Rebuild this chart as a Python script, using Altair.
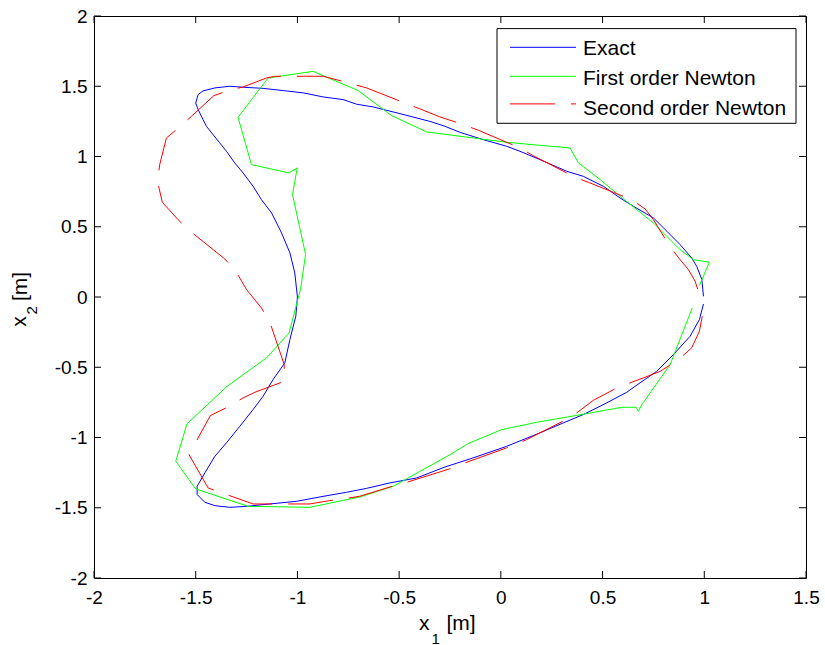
import altair as alt
import pandas as pd

# ---------------- data ----------------
exact_x1 = [0.996, 0.976, 0.930, 0.848, 0.766, 0.684, 0.619, 0.520, 0.405, 0.307, 0.192, 0.028, -0.136, -0.275,
            -0.414, -0.545, -0.660, -0.759, -0.874, -1.004, -1.136, -1.250, -1.333, -1.406, -1.455, -1.493, -1.493,
            -1.455, -1.406, -1.349, -1.283, -1.218, -1.169, -1.120, -1.062, -1.037, -1.008, -1.000, -1.013, -1.037,
            -1.078, -1.127, -1.177, -1.218, -1.267, -1.308, -1.349, -1.382, -1.415, -1.447, -1.464, -1.488, -1.500,
            -1.488, -1.464, -1.406, -1.333, -1.267, -1.169, -1.070, -0.972, -0.874, -0.775, -0.709, -0.628, -0.496,
            -0.349, -0.275, -0.201, -0.087, 0.028, 0.094, 0.192, 0.324, 0.405, 0.504, 0.586, 0.651, 0.750, 0.816,
            0.881, 0.938, 0.963, 0.988, 0.996]
exact_x2 = [-0.050, -0.161, -0.280, -0.410, -0.529, -0.611, -0.678, -0.754, -0.837, -0.896, -0.967, -1.063, -1.145,
            -1.210, -1.288, -1.323, -1.362, -1.390, -1.419, -1.454, -1.473, -1.490, -1.497, -1.485, -1.461, -1.406,
            -1.347, -1.252, -1.134, -1.038, -0.920, -0.801, -0.707, -0.588, -0.469, -0.303, -0.137, 0.000, 0.171,
            0.314, 0.456, 0.598, 0.693, 0.788, 0.883, 0.954, 1.037, 1.097, 1.156, 1.215, 1.263, 1.334, 1.381, 1.441,
            1.467, 1.488, 1.500, 1.493, 1.485, 1.469, 1.453, 1.424, 1.405, 1.372, 1.353, 1.305, 1.250, 1.215, 1.172,
            1.120, 1.073, 1.037, 0.978, 0.895, 0.859, 0.788, 0.705, 0.646, 0.563, 0.468, 0.373, 0.278, 0.218, 0.124,
            0.005]

first_x1 = [0.941, 0.832, 0.693, 0.676, 0.665, 0.594, 0.422, 0.176, 0.004, -0.160, -0.250, -0.529, -0.693, -0.939,
            -1.242, -1.500, -1.598, -1.543, -1.346, -1.152, -1.041, -0.985, -0.960, -1.024, -1.001, -1.041, -1.226,
            -1.292, -1.144, -0.923, -0.701, -0.537, -0.365, 0.028, 0.340, 0.381, 0.488, 0.586, 0.750, 0.881, 0.946,
            1.025, 0.976]
first_x2 = [-0.078, -0.481, -0.766, -0.813, -0.785, -0.785, -0.830, -0.892, -0.944, -1.043, -1.122, -1.347, -1.423,
            -1.497, -1.490, -1.366, -1.169, -0.903, -0.636, -0.433, -0.256, 0.053, 0.302, 0.729, 0.919, 0.883, 0.942,
            1.279, 1.559, 1.606, 1.469, 1.291, 1.175, 1.101, 1.061, 0.955, 0.836, 0.717, 0.527, 0.337, 0.266, 0.247,
            0.081]

second_x1 = [0.990, 0.976, 0.938, 0.901, 0.835, 0.783, 0.700, 0.635, 0.561, 0.455, 0.373, 0.304, 0.127, 0.028,
             -0.177, -0.254, -0.463, -0.545, -0.693, -0.759, -0.841, -0.939, -1.054, -1.218, -1.349, -1.439, -1.533,
             -1.521, -1.484, -1.428, -1.336, -1.267, -1.209, -1.065, -1.065, -1.136, -1.177, -1.250, -1.303, -1.357,
             -1.533, -1.587, -1.664, -1.688, -1.677, -1.644, -1.578, -1.521, -1.411, -1.341, -1.267, -1.152, -1.111,
             -0.972, -0.874, -0.759, -0.660, -0.398, -0.300, -0.185, -0.111, 0.094, 0.159, 0.365, 0.438, 0.553, 0.643,
             0.709, 0.750, 0.828, 0.878, 0.922, 0.955, 0.983]
second_x2 = [-0.137, -0.244, -0.362, -0.410, -0.481, -0.529, -0.576, -0.611, -0.654, -0.735, -0.825, -0.885, -1.015,
             -1.074, -1.181, -1.224, -1.319, -1.352, -1.418, -1.433, -1.449, -1.473, -1.473, -1.473, -1.406, -1.359,
             -1.122, -1.098, -0.991, -0.844, -0.778, -0.718, -0.678, -0.600, -0.481, -0.177, -0.078, 0.053, 0.183,
             0.271, 0.475, 0.551, 0.674, 0.823, 0.942, 1.132, 1.211, 1.286, 1.433, 1.469, 1.495, 1.559, 1.571, 1.571,
             1.571, 1.528, 1.488, 1.339, 1.282, 1.227, 1.187, 1.061, 1.006, 0.852, 0.812, 0.745, 0.693, 0.627, 0.551,
             0.366, 0.271, 0.195, 0.112, -0.014]

x_ticks = [-2, -1.5, -1, -0.5, 0, 0.5, 1, 1.5]
y_ticks = [-2, -1.5, -1, -0.5, 0, 0.5, 1, 1.5, 2]
legend_labels = ["Exact", "First order Newton", "Second order Newton"]
x_title = ["x", "1", "[m]"]
y_title = ["x", "2", "[m]"]

# ---------------- layout / style ----------------
W, H = 712, 562
FONT = "Liberation Sans"
FS = 19
LFS = 21
TFS = 21
TICK = 7
BLUE, GREEN, RED = "#0000ff", "#00ff00", "#ff0000"
DASH = [45, 16]

xscale = alt.Scale(domain=[-2, 1.5], nice=False, zero=False)
yscale = alt.Scale(domain=[-2, 2], nice=False, zero=False)
xaxis = alt.Axis(values=x_ticks, ticks=False, domain=False, grid=False, title=None,
                 labelExpr="datum.value + ''", labelFont=FONT, labelFontSize=FS,
                 labelColor="black", labelPadding=10, labelFlush=False)
yaxis = alt.Axis(values=y_ticks, ticks=False, domain=False, grid=False, title=None,
                 labelExpr="datum.value + ''", labelFont=FONT, labelFontSize=FS,
                 labelColor="black", labelPadding=7, labelFlush=False)


def series(xs, ys):
    return pd.DataFrame({"x1": xs, "x2": ys, "i": list(range(len(xs)))})


def line(df, color, dash=None):
    kw = dict(color=color, strokeWidth=1)
    if dash:
        kw["strokeDash"] = dash
    return alt.Chart(df).mark_line(**kw).encode(
        x=alt.X("x1:Q", scale=xscale, axis=xaxis),
        y=alt.Y("x2:Q", scale=yscale, axis=yaxis),
        order=alt.Order("i:Q"),
    )


layers = [
    line(series(exact_x1, exact_x2), BLUE),
    line(series(first_x1, first_x2), GREEN),
    line(series(second_x1, second_x2), RED, DASH),
]

# inward tick marks on all four sides
xt = pd.DataFrame({"x1": x_ticks})
yt = pd.DataFrame({"x2": y_ticks})
for y0, y1 in [(0, TICK), (H - TICK, H)]:
    layers.append(alt.Chart(xt).mark_rule(color="black", strokeWidth=1).encode(
        x=alt.X("x1:Q", scale=xscale, axis=xaxis), y=alt.value(y0), y2=alt.value(y1)))
for x0, x1 in [(0, TICK), (W - TICK, W)]:
    layers.append(alt.Chart(yt).mark_rule(color="black", strokeWidth=1).encode(
        y=alt.Y("x2:Q", scale=yscale, axis=yaxis), x=alt.value(x0), x2=alt.value(x1)))

one = pd.DataFrame({"a": [0]})

# legend box
layers.append(alt.Chart(one).mark_rect(fill="white", stroke="black", strokeWidth=1).encode(
    x=alt.value(403), x2=alt.value(702), y=alt.value(12.6), y2=alt.value(107.3)))
leg_line_y = [31.3, 60.3, 87.9]
leg_text_y = [38.8, 69.0, 98.8]
leg_colors = [BLUE, GREEN, RED]
for k, lab in enumerate(legend_labels):
    kw = dict(color=leg_colors[k], strokeWidth=1)
    if k == 2:
        kw["strokeDash"] = DASH
    layers.append(alt.Chart(one).mark_rule(**kw).encode(
        x=alt.value(416), x2=alt.value(482), y=alt.value(leg_line_y[k])))
    layers.append(alt.Chart(pd.DataFrame({"t": [lab]})).mark_text(
        align="left", baseline="alphabetic", font=FONT, fontSize=LFS, color="black").encode(
        text="t:N", x=alt.value(489), y=alt.value(leg_text_y[k])))

# axis titles with subscripts
xt_pos = [(325, 613.6, TFS), (337.5, 627.5, 15), (352.5, 613.6, TFS)]
for txt, (px, py, fs) in zip(x_title, xt_pos):
    layers.append(alt.Chart(pd.DataFrame({"t": [txt]})).mark_text(
        align="left", baseline="alphabetic", font=FONT, fontSize=fs, color="black").encode(
        text="t:N", x=alt.value(px), y=alt.value(py)))
yt_pos = [(-67.6, 310.8, TFS), (-56.6, 298.6, 15), (-66.6, 285.0, TFS)]
for txt, (px, py, fs) in zip(y_title, yt_pos):
    layers.append(alt.Chart(pd.DataFrame({"t": [txt]})).mark_text(
        align="left", baseline="alphabetic", font=FONT, fontSize=fs, color="black", angle=270).encode(
        text="t:N", x=alt.value(px), y=alt.value(py)))

chart = alt.layer(*layers).properties(
    width=W, height=H,
    autosize=alt.AutoSizeParams(type="none"),
    padding={"left": 94, "top": 16, "right": 19, "bottom": 67},
    background="white",
).configure_view(stroke="black", strokeWidth=1)

chart.save("out.html", embed_options={"renderer": "svg", "actions": False})
